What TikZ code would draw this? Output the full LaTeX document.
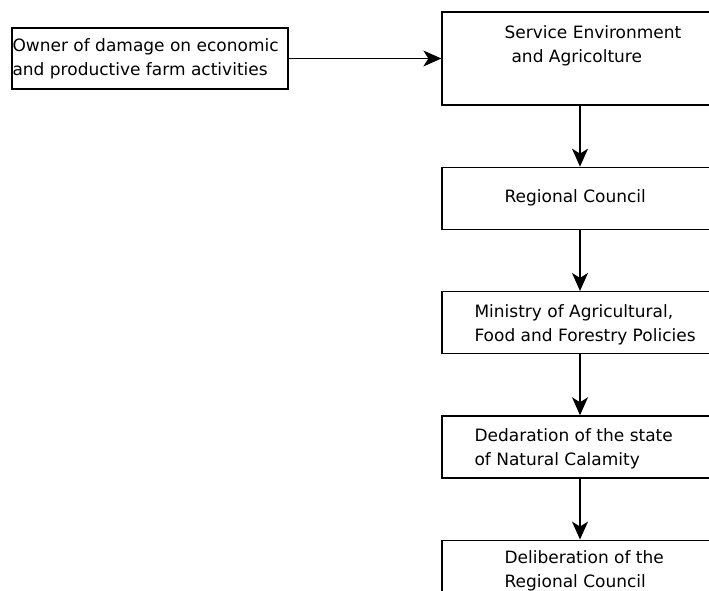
\documentclass[tikz,border=0pt]{standalone}
\usepackage{fontspec}
\setmainfont{DejaVu Sans}
\usetikzlibrary{arrows.meta,positioning}

\begin{document}
\begin{tikzpicture}[
    x=1pt, y=-1pt,
    node distance=61pt,
    box/.style={draw,line width=1.3pt,minimum width=276pt,minimum height=62pt,inner sep=0pt},
    txt/.style={align=left,inner sep=0pt,font=\fontsize{17}{24}\selectfont},
    flow/.style={-{Stealth[length=18pt,width=16pt,inset=5pt]},line width=1.3pt},
  ]
  \useasboundingbox (0,0) rectangle (709,591);

  %% Owner of damage
  \node[box,minimum height=61pt] (src) at (150,58.5) {};
  \node[txt,right=1pt of src.west] (srct) {Owner of damage on economic\\and productive farm activities};

  %% Procedure chain
  \node[box,minimum height=93pt] (b1) at (580,58.5) {};
  \node[box,below=of b1] (b2) {};
  \node[box,below=of b2] (b3) {};
  \node[box,below=of b3] (b4) {};
  \node[box,below=of b4] (b5) {};

  %% Texts
  \node[txt,right=63pt of b1.west,yshift=13pt] (t1) {Service Environment\\\hspace*{7pt}and Agricolture};
  \node[txt,right=63pt of b2.west] (t2) {Regional Council};
  \node[txt,right=33pt of b3.west,yshift=-2pt] (t3) {Ministry of Agricultural,\\Food and Forestry Policies};
  \node[txt,right=33pt of b4.west,yshift=-2pt] (t4) {Dedaration of the state\\of Natural Calamity};
  \node[txt,right=63pt of b5.west] (t5) {Deliberation of the\\Regional Council};

  %% Arrows
  \draw[flow] (src) -- (b1);
  \foreach \src/\dst in {b1/b2,b2/b3,b3/b4,b4/b5}{
    \draw[flow] (\src) -- (\dst);
  }
\end{tikzpicture}
\end{document}
